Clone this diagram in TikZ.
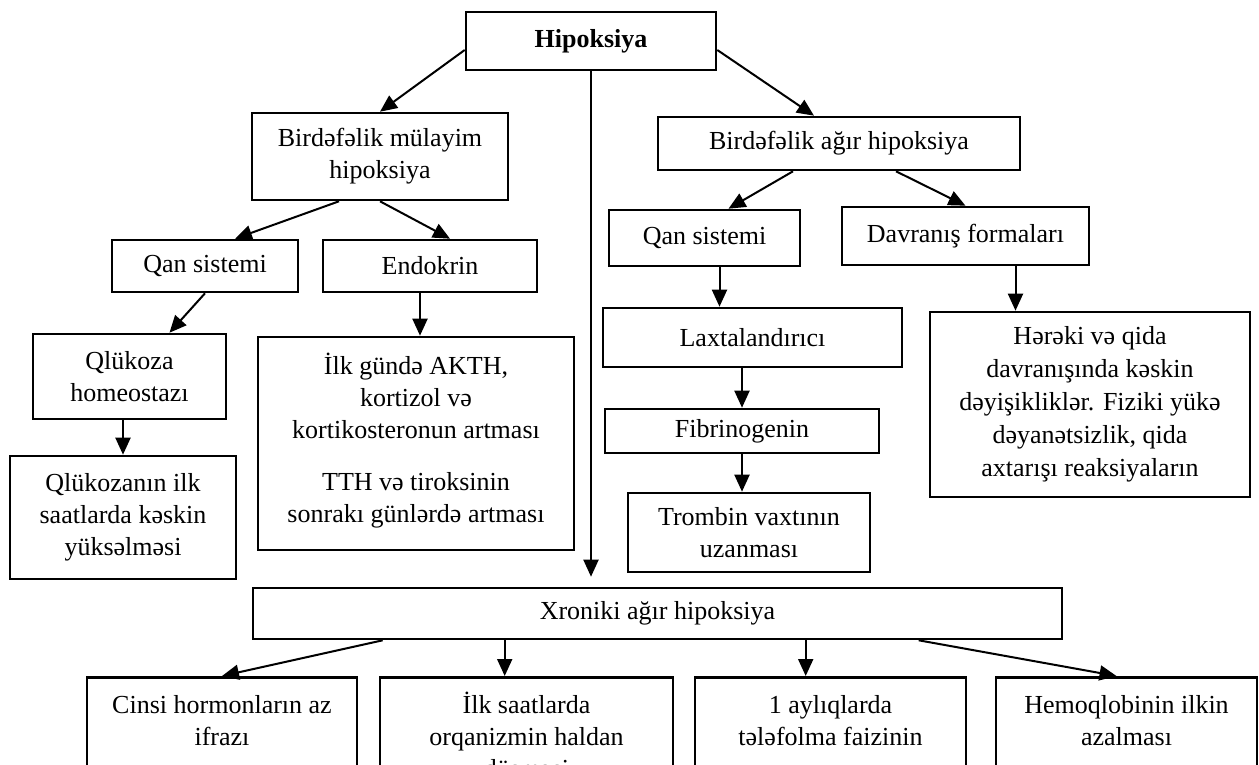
\documentclass[tikz,border=0pt]{standalone}
\usepackage{fontspec}
\setmainfont{Liberation Serif}
\usetikzlibrary{arrows.meta}
\newcommand{\lowtxt}[2]{\parbox[t][150pt][t]{#1}{\centering\strut #2}}

\begin{document}
\begin{tikzpicture}[x=1pt, y=-1pt, align=center,
		bx/.style={draw, line width=2.6pt, inner sep=0pt, font=\fontsize{26}{32}\selectfont},
		low/.style={bx, anchor=north, inner xsep=0pt, inner ysep=14pt},
		arr/.style={line width=2pt, -{Triangle[length=17pt, width=15pt]}}]
	\useasboundingbox (0,0) rectangle (1259,765);

	\node[bx, minimum width=250, minimum height=58] (hip) at (591,41) {\textbf{Hipoksiya}};
	\node[bx, minimum width=256, minimum height=87] (mul) at (380,156.5) {Birdəfəlik mülayim\\hipoksiya};
	\node[bx, minimum width=362, minimum height=53] (agir) at (839,143.5) {Birdəfəlik ağır hipoksiya};
	\node[bx, minimum width=186, minimum height=52] (qanL) at (205,266) {Qan sistemi};
	\node[bx, minimum width=214, minimum height=52] (endo) at (430,266) {Endokrin};
	\node[bx, minimum width=191, minimum height=56] (qanR) at (704.5,238) {Qan sistemi};
	\node[bx, minimum width=247, minimum height=58] (davr) at (965.5,236) {Davranış formaları};
	\node[bx, minimum width=193, minimum height=85] (glk) at (129.5,376.5) {Qlükoza\\homeostazı};
	\node[bx, minimum width=316, minimum height=213] (akth) at (416,443.5) {İlk gündə AKTH,\\kortizol və\\kortikosteronun artması\\[20pt]TTH və tiroksinin\\sonrakı günlərdə artması\\[-20pt]~};
	\node[bx, minimum width=226, minimum height=123] (glkn) at (123,517.5) {Qlükozanın ilk\\saatlarda kəskin\\yüksəlməsi};
	\node[bx, minimum width=299, minimum height=59] (lax) at (752.5,337.5) {Laxtalandırıcı};
	\node[bx, minimum width=274, minimum height=44] (fib) at (742,431) {Fibrinogenin};
	\node[bx, minimum width=242, minimum height=79] (tromb) at (749,532.5) {Trombin vaxtının\\uzanması};
	\node[bx, minimum width=320, minimum height=185] (herk) at (1090,404.5) {Hərəki və qida\\[1pt]davranışında kəskin\\[1pt]dəyişikliklər. Fiziki yükə\\[1pt]dəyanətsizlik, qida\\[1pt]axtarışı reaksiyaların};
	\node[bx, minimum width=809, minimum height=51] (xron) at (657.5,613.5) {Xroniki ağır hipoksiya};

	\node[low] (cinsi) at (222,676) {\lowtxt{270pt}{Cinsi hormonların az\\ifrazı}};
	\node[low] (ilk) at (526.5,676) {\lowtxt{293pt}{İlk saatlarda\\orqanizmin haldan\\düşməsi}};
	\node[low] (ayl) at (830.5,676) {\lowtxt{271pt}{1 aylıqlarda\\tələfolma faizinin}};
	\node[low] (hem) at (1126.5,676) {\lowtxt{261pt}{Hemoqlobinin ilkin\\azalması}};

	\draw[arr] ([yshift=-9pt]hip.west) -- (mul.north);
	\draw[arr] ([yshift=-9pt]hip.east) -- ([xshift=-25pt]agir.north);
	\draw[arr] (hip.south) -- ([yshift=10pt]hip.south |- xron.north);
	\draw[arr] ([xshift=-41pt]mul.south) -- ([xshift=30pt]qanL.north);
	\draw[arr] (mul.south) -- ([xshift=20pt]endo.north);
	\draw[arr] (qanL.south) -- ([xshift=40pt]glk.north);
	\draw[arr] ([xshift=-10pt]endo.south) -- ([xshift=-10pt]endo.south |- akth.north);
	\draw[arr] (glk.south -| glkn.north) -- (glkn.north);
	\draw[arr] ([xshift=-46pt]agir.south) -- ([xshift=24pt]qanR.north);
	\draw[arr] ([xshift=57pt]agir.south) -- (davr.north);
	\draw[arr] ([xshift=15pt]qanR.south) -- ([xshift=15pt]qanR.south |- lax.north);
	\draw[arr] ([xshift=50pt]davr.south) -- ([xshift=50pt]davr.south |- herk.north);
	\draw[arr] (fib.north |- lax.south) -- (fib.north);
	\draw[arr] (fib.south) -- (tromb.north -| fib.south);
	\draw[arr] ([xshift=131pt]xron.south west) -- (cinsi.north);
	\draw[arr] ([xshift=253pt]xron.south west) -- ([xshift=253pt]xron.south west |- ilk.north);
	\draw[arr] ([xshift=554pt]xron.south west) -- ([xshift=554pt]xron.south west |- ayl.north);
	\draw[arr] ([xshift=667pt]xron.south west) -- ([xshift=-10pt]hem.north);
\end{tikzpicture}
\end{document}
